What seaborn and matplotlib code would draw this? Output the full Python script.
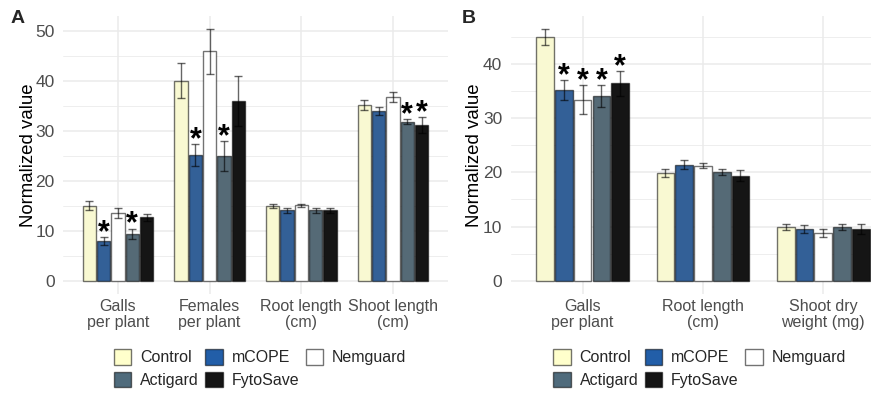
import matplotlib
matplotlib.use("Agg")
import matplotlib.pyplot as plt
from matplotlib.patches import Patch
from matplotlib.ticker import MultipleLocator
import numpy as np
import pandas as pd
import seaborn as sns

# ---------------- data ----------------
treatments = ["Control", "mCOPE", "Nemguard", "Actigard", "FytoSave"]
colors = ["#FFFFCC", "#225EA8", "#FFFFFF", "#4F6B7C", "#151515"]

a_cats = ["Galls\nper plant", "Females\nper plant", "Root length\n(cm)", "Shoot length\n(cm)"]
a_control = [15.0, 40.0, 14.95, 35.05]
a_mcope = [8.0, 25.1, 14.1, 33.85]
a_nemguard = [13.6, 45.9, 15.15, 36.7]
a_actigard = [9.4, 24.9, 14.1, 31.8]
a_fytosave = [12.7, 35.9, 14.1, 31.1]
a_control_se = [0.9, 3.5, 0.35, 1.0]
a_mcope_se = [0.75, 2.2, 0.45, 0.8]
a_nemguard_se = [0.95, 4.5, 0.3, 1.0]
a_actigard_se = [1.05, 3.05, 0.45, 0.55]
a_fytosave_se = [0.65, 5.0, 0.45, 1.55]
a_control_sig = [0, 0, 0, 0]
a_mcope_sig = [1, 1, 0, 0]
a_nemguard_sig = [0, 0, 0, 0]
a_actigard_sig = [1, 1, 0, 1]
a_fytosave_sig = [0, 0, 0, 1]

b_cats = ["Galls\nper plant", "Root length\n(cm)", "Shoot dry\nweight (mg)"]
b_control = [44.95, 19.9, 9.95]
b_mcope = [35.2, 21.4, 9.5]
b_nemguard = [33.4, 21.2, 8.85]
b_actigard = [34.1, 20.1, 9.85]
b_fytosave = [36.4, 19.4, 9.55]
b_control_se = [1.5, 0.75, 0.55]
b_mcope_se = [1.85, 0.85, 0.75]
b_nemguard_se = [2.6, 0.45, 0.75]
b_actigard_se = [2.0, 0.55, 0.55]
b_fytosave_se = [2.3, 0.95, 0.9]
b_control_sig = [0, 0, 0]
b_mcope_sig = [1, 0, 0]
b_nemguard_sig = [1, 0, 0]
b_actigard_sig = [1, 0, 0]
b_fytosave_sig = [1, 0, 0]

a_means = [a_control, a_mcope, a_nemguard, a_actigard, a_fytosave]
a_ses = [a_control_se, a_mcope_se, a_nemguard_se, a_actigard_se, a_fytosave_se]
a_sigs = [a_control_sig, a_mcope_sig, a_nemguard_sig, a_actigard_sig, a_fytosave_sig]
b_means = [b_control, b_mcope, b_nemguard, b_actigard, b_fytosave]
b_ses = [b_control_se, b_mcope_se, b_nemguard_se, b_actigard_se, b_fytosave_se]
b_sigs = [b_control_sig, b_mcope_sig, b_nemguard_sig, b_actigard_sig, b_fytosave_sig]


def make_df(cats, means, ses, sigs):
    rows = []
    for t, m, s, g in zip(treatments, means, ses, sigs):
        for c, mv, sv, gv in zip(cats, m, s, g):
            rows.append({"cat": c, "treat": t, "value": mv, "se": sv, "sig": gv})
    return pd.DataFrame(rows)


# ---------------- style ----------------
sns.set_style("white")
plt.rcParams["font.family"] = ["Liberation Sans", "DejaVu Sans"]

W, H = 871, 393
fig = plt.figure(figsize=(W / 100, H / 100), dpi=100)

grid_col = "#EBEBEB"
tick_col = "#4D4D4D"
edge_rgba = (0, 0, 0, 0.55)
err_rgba = (0, 0, 0, 0.6)


def draw_panel(rect, cats, means, ses, sigs, xlim, ylim, major, ylab_x, legend_cx, letter, letter_x):
    ax = fig.add_axes(rect)
    df = make_df(cats, means, ses, sigs)
    sns.barplot(data=df, x="cat", y="value", hue="treat", order=cats, hue_order=treatments,
                palette=colors, errorbar=None, width=0.78, gap=0.06, ax=ax,
                edgecolor=edge_rgba, linewidth=1.0, legend=False, zorder=2)
    bar_conts = list(ax.containers)
    for i, cont in enumerate(bar_conts):
        sub = df[df["treat"] == treatments[i]].set_index("cat").loc[cats]
        xs = [b.get_x() + b.get_width() / 2 for b in cont]
        ys = sub["value"].values
        es = sub["se"].values
        ax.errorbar(xs, ys, yerr=es, fmt="none", ecolor=err_rgba, elinewidth=1.0,
                    capsize=3.2, capthick=1.0, zorder=3)
        for x, y, e, g in zip(xs, ys, es, sub["sig"].values):
            if g:
                ax.annotate("*", (x, y + e), xytext=(0, -3), textcoords="offset points",
                            ha="center", va="baseline", fontsize=22, fontweight="bold",
                            color="black", zorder=4)
    ax.set_xlim(*xlim)
    ax.set_ylim(*ylim)
    ax.yaxis.set_major_locator(MultipleLocator(major))
    ax.yaxis.set_minor_locator(MultipleLocator(major / 2))
    ax.grid(which="major", axis="both", color=grid_col, linewidth=1.1, zorder=0)
    ax.grid(which="minor", axis="y", color=grid_col, linewidth=0.6, zorder=0)
    ax.set_axisbelow(True)
    for s in ax.spines.values():
        s.set_visible(False)
    ax.tick_params(axis="both", which="both", length=0)
    ax.tick_params(axis="y", pad=6, labelsize=12.5, labelcolor=tick_col)
    ax.tick_params(axis="x", pad=4, labelsize=11.5, labelcolor=tick_col)
    for lab in ax.get_xticklabels():
        lab.set_linespacing(1.1)
    ax.set_xlabel("")
    ax.set_ylabel("Normalized value", fontsize=13.4, color="black")
    ax.yaxis.set_label_coords(ylab_x, 0.5)

    handles = [Patch(facecolor=c, edgecolor=edge_rgba, linewidth=1.0) for c in colors]
    order = [0, 3, 1, 4, 2]
    fig.legend([handles[k] for k in order], [treatments[k] for k in order],
               loc="center", bbox_to_anchor=(legend_cx, 24.5 / H), ncol=3, frameon=False,
               fontsize=11.5, handlelength=1.1, handleheight=1.1, handletextpad=0.55,
               columnspacing=0.4, labelspacing=0.4, borderpad=0.2)
    fig.text(letter_x / W, 1 - 18.5 / H, letter, fontsize=14, fontweight="bold",
             ha="center", va="center")
    return ax


ax_bottom = (H - 293.5) / H
ax_height = (293.5 - 16) / H

draw_panel([63 / W, ax_bottom, 385 / W, ax_height], a_cats, a_means, a_ses, a_sigs,
           (-0.6, 3.6), (-2.52, 52.9), 10, -0.067, 260 / W, "A", 18)
draw_panel([510.5 / W, ax_bottom, 360.5 / W, ax_height], b_cats, b_means, b_ses, b_sigs,
           (-0.6, 2.397), (-2.33, 48.8), 10, -0.076, 699.5 / W, "B", 469)

fig.savefig("out.png", dpi=100)
